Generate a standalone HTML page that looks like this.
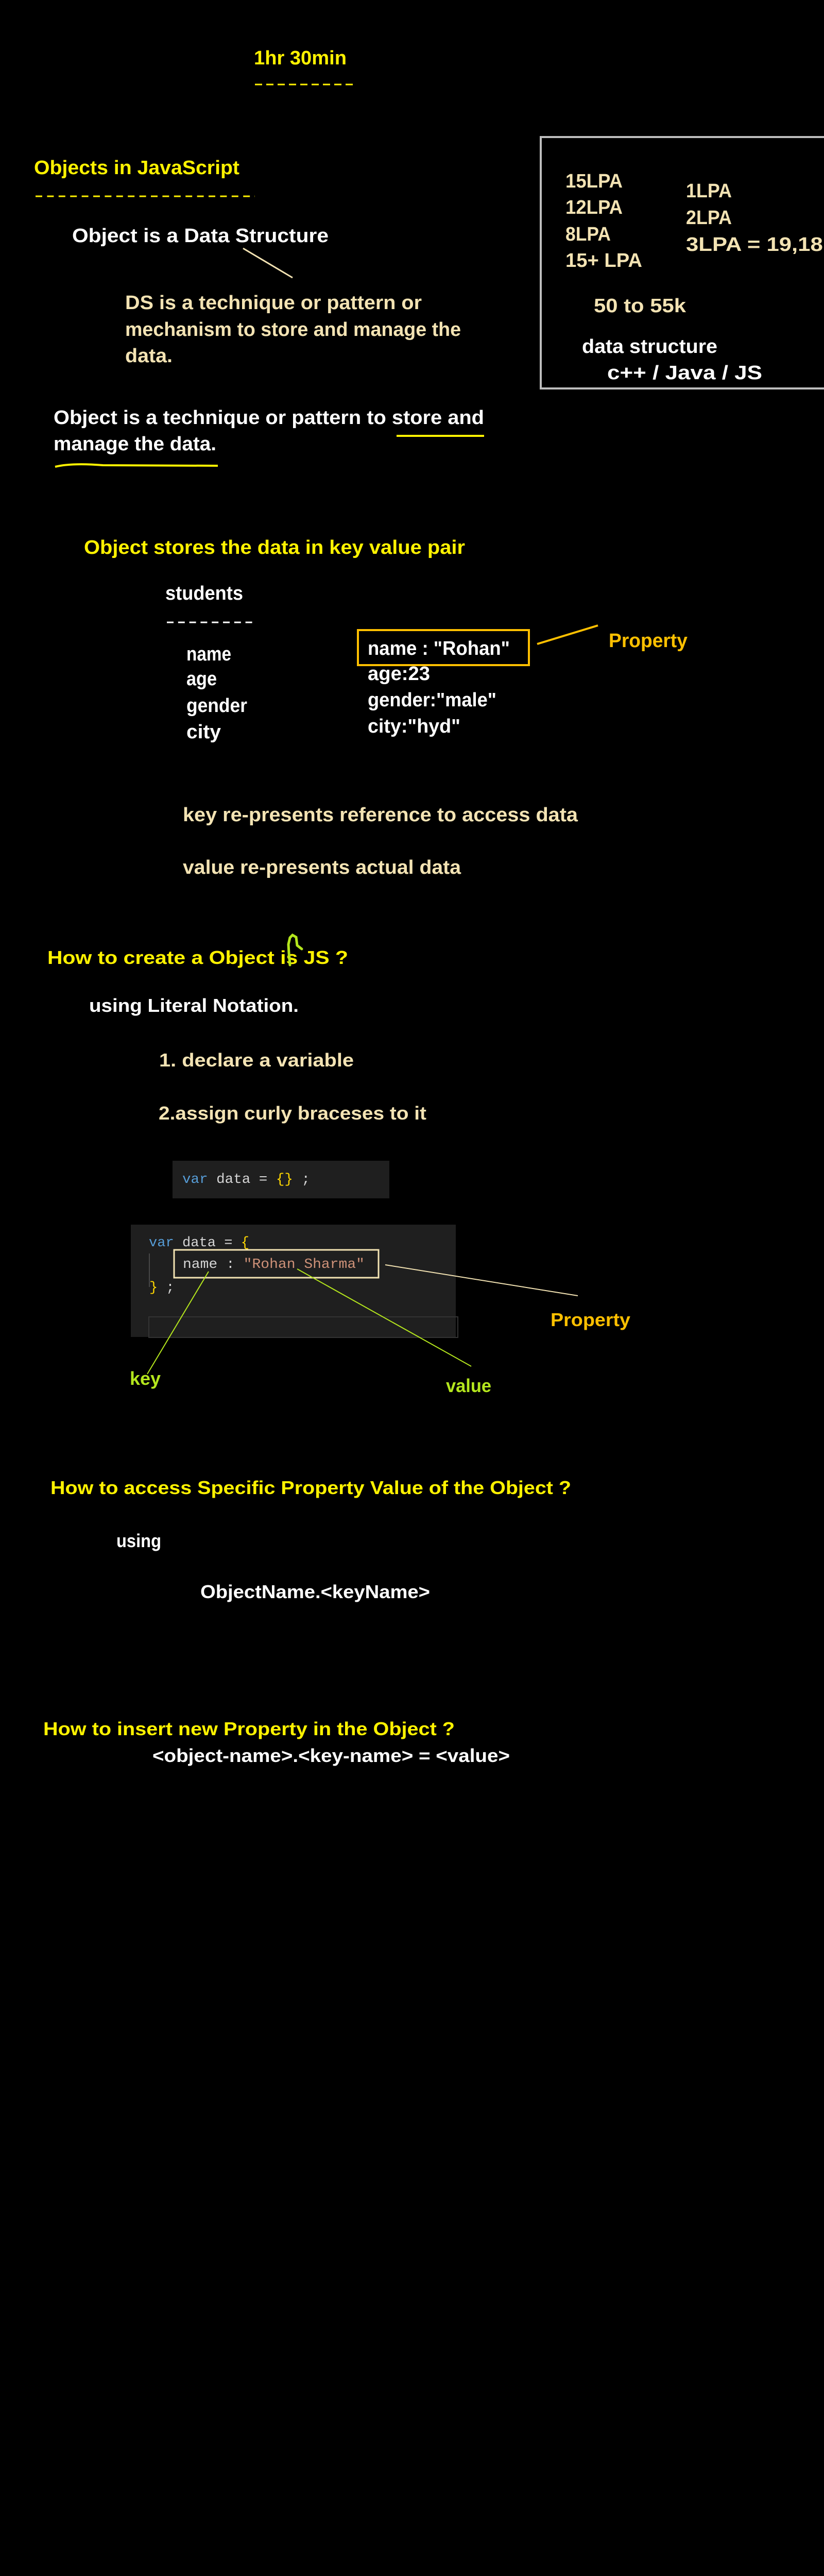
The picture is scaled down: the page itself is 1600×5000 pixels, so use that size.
<!DOCTYPE html>
<html><head><meta charset="utf-8"><style>
html,body{margin:0;padding:0;background:#000;}
svg{display:block}
text{font-family:"Liberation Sans",sans-serif;font-weight:bold;}
.m{font-family:"Liberation Mono",monospace;font-weight:normal;font-size:27px}
</style></head><body>
<svg width="1600" height="5000" viewBox="0 0 1600 5000" xmlns="http://www.w3.org/2000/svg">
<rect width="1600" height="5000" fill="#000"/>
<g font-size="38">
<text x="493" y="125" fill="#fff200" textLength="180" lengthAdjust="spacingAndGlyphs">1hr 30min</text>
<line x1="495" y1="164" x2="691" y2="164" stroke="#fff200" stroke-width="3" stroke-dasharray="14 8"/>
<text x="66" y="338" fill="#fff200" textLength="399" lengthAdjust="spacingAndGlyphs">Objects in JavaScript</text>
<line x1="69" y1="381" x2="495" y2="381" stroke="#fff200" stroke-width="3" stroke-dasharray="13 9.4"/>
<text x="140" y="470" fill="#fff" textLength="498" lengthAdjust="spacingAndGlyphs">Object is a Data Structure</text>
<line x1="472" y1="482" x2="568" y2="539" stroke="#f3e3b3" stroke-width="3"/>
<text x="243" y="600" fill="#f3e3b3" textLength="576" lengthAdjust="spacingAndGlyphs">DS is a technique or pattern or</text>
<text x="243" y="652" fill="#f3e3b3" textLength="652" lengthAdjust="spacingAndGlyphs">mechanism to store and manage the</text>
<text x="243" y="703" fill="#f3e3b3" textLength="92" lengthAdjust="spacingAndGlyphs">data.</text>
<rect x="1050" y="266" width="600" height="488" fill="none" stroke="#bdbdbd" stroke-width="4"/>
<text x="1098" y="364" fill="#f3e3b3" textLength="111" lengthAdjust="spacingAndGlyphs">15LPA</text>
<text x="1098" y="415" fill="#f3e3b3" textLength="111" lengthAdjust="spacingAndGlyphs">12LPA</text>
<text x="1098" y="467" fill="#f3e3b3" textLength="88" lengthAdjust="spacingAndGlyphs">8LPA</text>
<text x="1098" y="518" fill="#f3e3b3" textLength="149" lengthAdjust="spacingAndGlyphs">15+ LPA</text>
<text x="1332" y="383" fill="#f3e3b3" textLength="89" lengthAdjust="spacingAndGlyphs">1LPA</text>
<text x="1332" y="435" fill="#f3e3b3" textLength="89" lengthAdjust="spacingAndGlyphs">2LPA</text>
<text x="1332" y="487" fill="#f3e3b3" textLength="290" lengthAdjust="spacingAndGlyphs">3LPA = 19,18k</text>
<text x="1153" y="606" fill="#f3e3b3" textLength="179" lengthAdjust="spacingAndGlyphs">50 to 55k</text>
<text x="1130" y="685" fill="#fff" textLength="263" lengthAdjust="spacingAndGlyphs">data structure</text>
<text x="1179" y="736" fill="#fff" textLength="301" lengthAdjust="spacingAndGlyphs">c++ / Java / JS</text>
<text x="104" y="823" fill="#fff" textLength="836" lengthAdjust="spacingAndGlyphs">Object is a technique or pattern to store and</text>
<text x="104" y="874" fill="#fff" textLength="316" lengthAdjust="spacingAndGlyphs">manage the data.</text>
<line x1="770" y1="846" x2="940" y2="846" stroke="#fff200" stroke-width="4"/>
<path d="M107 906 Q140 898 200 903 L423 904" fill="none" stroke="#fff200" stroke-width="4"/>

<text x="163" y="1075" fill="#fff200" textLength="740" lengthAdjust="spacingAndGlyphs">Object stores the data in key value pair</text>
<text x="321" y="1164" fill="#fff" textLength="151" lengthAdjust="spacingAndGlyphs">students</text>
<line x1="324" y1="1208" x2="498" y2="1208" stroke="#fff" stroke-width="3" stroke-dasharray="13 8.8"/>
<text x="362" y="1282" fill="#fff" textLength="87" lengthAdjust="spacingAndGlyphs">name</text>
<text x="362" y="1330" fill="#fff" textLength="59" lengthAdjust="spacingAndGlyphs">age</text>
<text x="362" y="1382" fill="#fff" textLength="118" lengthAdjust="spacingAndGlyphs">gender</text>
<text x="362" y="1433" fill="#fff" textLength="67" lengthAdjust="spacingAndGlyphs">city</text>
<rect x="695" y="1223" width="332" height="68" fill="none" stroke="#ffc000" stroke-width="4"/>
<text x="714" y="1271" fill="#fff" textLength="276" lengthAdjust="spacingAndGlyphs">name : "Rohan"</text>
<text x="714" y="1320" fill="#fff" textLength="121" lengthAdjust="spacingAndGlyphs">age:23</text>
<text x="714" y="1371" fill="#fff" textLength="250" lengthAdjust="spacingAndGlyphs">gender:"male"</text>
<text x="714" y="1422" fill="#fff" textLength="180" lengthAdjust="spacingAndGlyphs">city:"hyd"</text>
<line x1="1043" y1="1250" x2="1161" y2="1214" stroke="#ffc000" stroke-width="4"/>
<text x="1182" y="1256" fill="#ffc000" textLength="153" lengthAdjust="spacingAndGlyphs">Property</text>
<text x="355" y="1594" fill="#f3e3b3" textLength="767" lengthAdjust="spacingAndGlyphs">key re-presents reference to access data</text>
<text x="355" y="1696" fill="#f3e3b3" textLength="540" lengthAdjust="spacingAndGlyphs">value re-presents actual data</text>
</g>

<g font-size="36">
<text x="92" y="1871" fill="#fff200" textLength="584" lengthAdjust="spacingAndGlyphs">How to create a Object is JS ?</text>
<path d="M563 1873 L561 1850 L560 1833 L563 1820 L568 1815 L575 1819 L577 1835 L586 1842" fill="none" stroke="#b4e61d" stroke-width="5" stroke-linecap="round"/>
<text x="173" y="1964" fill="#fff" textLength="407" lengthAdjust="spacingAndGlyphs">using Literal Notation.</text>
<text x="309" y="2070" fill="#f3e3b3" textLength="378" lengthAdjust="spacingAndGlyphs">1. declare a variable</text>
<text x="308" y="2173" fill="#f3e3b3" textLength="520" lengthAdjust="spacingAndGlyphs">2.assign curly braceses to it</text>
</g>

<rect x="335" y="2253" width="421" height="73" fill="#1f1f1f"/>
<text class="m" x="354" y="2296" xml:space="preserve" textLength="248" lengthAdjust="spacingAndGlyphs"><tspan fill="#569cd6">var</tspan><tspan fill="#d4d4d4"> data = </tspan><tspan fill="#ffd700">{}</tspan><tspan fill="#d4d4d4"> ;</tspan></text>

<rect x="254" y="2377" width="631" height="218" fill="#1f1f1f"/>
<rect x="289" y="2556" width="600" height="40" fill="none" stroke="#333" stroke-width="2"/>
<line x1="290" y1="2433" x2="290" y2="2498" stroke="#555" stroke-width="1.5"/>
<text class="m" x="289" y="2419" xml:space="preserve" textLength="195" lengthAdjust="spacingAndGlyphs"><tspan fill="#569cd6">var</tspan><tspan fill="#d4d4d4"> data = </tspan><tspan fill="#ffd700">{</tspan></text>
<text class="m" x="355" y="2461" xml:space="preserve" textLength="353" lengthAdjust="spacingAndGlyphs"><tspan fill="#d4d4d4">name : </tspan><tspan fill="#ce9178">"Rohan Sharma"</tspan></text>
<text class="m" x="290" y="2506" xml:space="preserve"><tspan fill="#ffd700">}</tspan><tspan fill="#d4d4d4"> ;</tspan></text>
<rect x="338" y="2426" width="397" height="54" fill="none" stroke="#f3e3b3" stroke-width="3"/>
<line x1="748" y1="2455" x2="1122" y2="2515" stroke="#f3e3b3" stroke-width="2"/>
<line x1="405" y1="2468" x2="286" y2="2667" stroke="#b4e61d" stroke-width="2"/>
<line x1="577" y1="2463" x2="915" y2="2652" stroke="#b4e61d" stroke-width="2"/>

<g font-size="36">
<text x="1069" y="2574" fill="#ffc000" textLength="155" lengthAdjust="spacingAndGlyphs">Property</text>
<text x="252" y="2688" fill="#b4e61d" textLength="60" lengthAdjust="spacingAndGlyphs">key</text>
<text x="866" y="2702" fill="#b4e61d" textLength="88" lengthAdjust="spacingAndGlyphs">value</text>
<text x="98" y="2900" fill="#fff200" textLength="1011" lengthAdjust="spacingAndGlyphs">How to access Specific Property Value of the Object ?</text>
<text x="226" y="3003" fill="#fff" textLength="87" lengthAdjust="spacingAndGlyphs">using</text>
<text x="389" y="3102" fill="#fff" textLength="446" lengthAdjust="spacingAndGlyphs">ObjectName.&lt;keyName&gt;</text>
<text x="84" y="3368" fill="#fff200" textLength="799" lengthAdjust="spacingAndGlyphs">How to insert new Property in the Object ?</text>
<text x="296" y="3420" fill="#fff" textLength="694" lengthAdjust="spacingAndGlyphs">&lt;object-name&gt;.&lt;key-name&gt; = &lt;value&gt;</text>
</g>
</svg>
</body></html>
